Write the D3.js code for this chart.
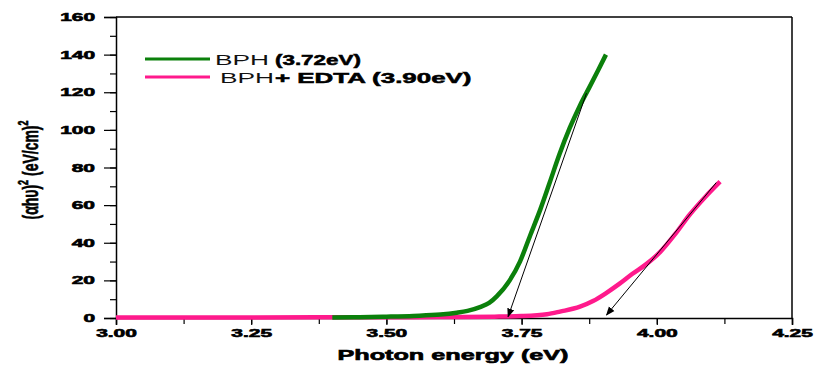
<!DOCTYPE html>
<html>
<head>
<meta charset="utf-8">
<script src="https://cdn.jsdelivr.net/npm/d3@7"></script>
<style>
  body { margin: 0; background: #fff; }
  svg { font-family: "Liberation Sans", Arial, sans-serif; }
</style>
</head>
<body>
<div id="chart"></div>
<script>
// data
var bphX = [3.40, 3.45, 3.50, 3.55, 3.60, 3.63, 3.65, 3.673, 3.69, 3.704, 3.728, 3.747, 3.766, 3.785, 3.802, 3.82, 3.839, 3.858, 3.876, 3.892, 3.906];
var bphY = [0.2, 0.4, 0.7, 1.1, 1.8, 2.8, 3.8, 5.8, 8, 11.5, 20, 30, 44, 58, 72, 87, 101, 113, 123, 132, 140];
var edtaX = [3.00, 3.25, 3.50, 3.60, 3.70, 3.75, 3.797, 3.821, 3.858, 3.882, 3.905, 3.93, 3.955, 3.98, 4.006, 4.035, 4.061, 4.09, 4.117];
var edtaY = [0.2, 0.3, 0.4, 0.5, 0.7, 1.0, 2, 3.4, 6, 9, 13, 18, 23.5, 28.5, 35, 45, 55, 64.5, 72.5];
// tangent lines (start on curve, arrow at intercept)
var bphTangent = [[3.870, 119.5], [3.725, 0.7]];
var edtaTangent = [[4.110, 72], [3.907, 1.6]];
var seriesNames = ["BPH", "BPH"];
var seriesNotes = ["(3.72eV)", "+ EDTA (3.90eV)"];
var xTicks = [3.00, 3.25, 3.50, 3.75, 4.00, 4.25];
var yTicks = [0, 20, 40, 60, 80, 100, 120, 140, 160];

var w = 814, h = 365;
var green = "#0b800b", pink = "#ff1a8c";
var ink = "#000";

var svg = d3.select("#chart").append("svg")
    .attr("width", w)
    .attr("height", h);

var x = d3.scaleLinear().domain([3.0, 4.25]).range([116, 792]);
var y = d3.scaleLinear().domain([0, 160]).range([318, 17]);

// the original is stretched sideways, so widen the glyphs
function stretch(sel, f) {
    sel.each(function(){
        var len = this.getComputedTextLength();
        d3.select(this).attr("textLength", len * f).attr("lengthAdjust", "spacingAndGlyphs");
    });
}

// minor ticks
var xMinor = d3.range(3.0, 4.2501, 0.125);
var yMinor = d3.range(0, 160.01, 10);

svg.append("g")
   .attr("transform", "translate(0," + y(0) + ")")
   .call(d3.axisBottom(x).tickValues(xMinor).tickSize(6).tickFormat(""))
   .call(function(g){ g.select(".domain").remove(); });

svg.append("g")
   .attr("transform", "translate(" + x(3.0) + ",0)")
   .call(d3.axisLeft(y).tickValues(yMinor).tickSize(6).tickFormat(""))
   .call(function(g){ g.select(".domain").remove(); });

svg.append("g")
   .attr("transform", "translate(0," + y(0) + ")")
   .call(d3.axisBottom(x).tickValues(xTicks).tickSize(7).tickPadding(4)
         .tickFormat(d3.format(".2f")));

svg.append("g")
   .attr("transform", "translate(" + x(3.0) + ",0)")
   .call(d3.axisLeft(y).tickValues(yTicks).tickSize(12).tickPadding(9));

svg.selectAll(".tick text")
   .attr("font-size", 11)
   .attr("font-weight", "bold")
   .attr("font-family", "'Liberation Sans', Arial, sans-serif")
   .attr("fill", ink)
   .attr("stroke", ink)
   .attr("stroke-width", 0.6)
   .call(stretch, 1.9);
svg.selectAll(".tick line").attr("stroke", ink).attr("stroke-width", 1.2);
svg.selectAll(".domain").attr("stroke", ink).attr("stroke-width", 1.5);

// frame top and right
svg.append("line")
   .attr("x1", x(3.0)).attr("x2", x(4.25))
   .attr("y1", y(160)).attr("y2", y(160))
   .attr("stroke", ink).attr("stroke-width", 1.5);
svg.append("line")
   .attr("x1", x(4.25)).attr("x2", x(4.25))
   .attr("y1", y(160)).attr("y2", y(0))
   .attr("stroke", ink).attr("stroke-width", 1.5);

var line = d3.line()
    .x(function(d){ return x(d[0]); })
    .y(function(d){ return y(d[1]); })
    .curve(d3.curveMonotoneX);

var edtaData = edtaX.map(function(v, i){ return [v, edtaY[i]]; });
var bphData = bphX.map(function(v, i){ return [v, bphY[i]]; });

svg.append("path")
   .datum(edtaData)
   .attr("d", line)
   .attr("fill", "none")
   .attr("stroke", pink)
   .attr("stroke-width", 4.5);

svg.append("path")
   .datum(bphData)
   .attr("d", line)
   .attr("fill", "none")
   .attr("stroke", green)
   .attr("stroke-width", 4.5);

// arrows
svg.append("defs").append("marker")
   .attr("id", "arrow")
   .attr("viewBox", "0 0 10 10")
   .attr("refX", 9).attr("refY", 5)
   .attr("markerWidth", 9).attr("markerHeight", 9)
   .attr("orient", "auto")
   .append("path")
   .attr("d", "M0,1 L10,5 L0,9 Z")
   .attr("fill", "#000");

[bphTangent, edtaTangent].forEach(function(t){
    svg.append("line")
       .attr("x1", x(t[0][0])).attr("y1", y(t[0][1]))
       .attr("x2", x(t[1][0])).attr("y2", y(t[1][1]))
       .attr("stroke", "#000")
       .attr("stroke-width", 1)
       .attr("marker-end", "url(#arrow)");
});

// legend
var legendColors = [green, pink];
var legend = svg.append("g");
seriesNames.forEach(function(name, i){
    var ly = 59 + i * 18;
    legend.append("line")
       .attr("x1", 145).attr("x2", 210)
       .attr("y1", ly).attr("y2", ly)
       .attr("stroke", legendColors[i])
       .attr("stroke-width", 3);
    var nx = 215 + i * 5;
    var t1 = legend.append("text")
       .attr("x", nx)
       .attr("y", ly + 6)
       .attr("font-size", 15)
       .attr("fill", "#111")
       .text(name)
       .call(stretch, 1.75);
    legend.append("text")
       .attr("x", nx + +t1.attr("textLength") + (i === 0 ? 6 : 1))
       .attr("y", ly + 6)
       .attr("font-size", 14)
       .attr("font-weight", "bold")
       .attr("fill", ink)
       .attr("stroke", ink).attr("stroke-width", 0.5)
       .text(seriesNotes[i])
       .call(stretch, i === 0 ? 1.6 : 1.85);
});

// axis titles
svg.append("text")
   .attr("x", 453)
   .attr("y", 360)
   .attr("text-anchor", "middle")
   .attr("font-size", 14)
   .attr("font-weight", "bold")
   .attr("fill", ink)
   .attr("stroke", ink).attr("stroke-width", 0.6)
   .text("Photon energy (eV)")
   .call(stretch, 1.8);

var yt = svg.append("text")
   .attr("transform", "translate(38,170) scale(1.6,1) rotate(-90)")
   .attr("text-anchor", "middle")
   .attr("font-size", 14)
   .attr("font-weight", "bold")
   .attr("fill", ink)
   .attr("stroke", ink).attr("stroke-width", 0.4);
yt.append("tspan").text("(αhυ)");
yt.append("tspan").text("2").attr("font-size", 9).attr("dy", -6);
yt.append("tspan").text(" (eV/cm)").attr("dy", 6);
yt.append("tspan").text("2").attr("font-size", 9).attr("dy", -6);
</script>
</body>
</html>
